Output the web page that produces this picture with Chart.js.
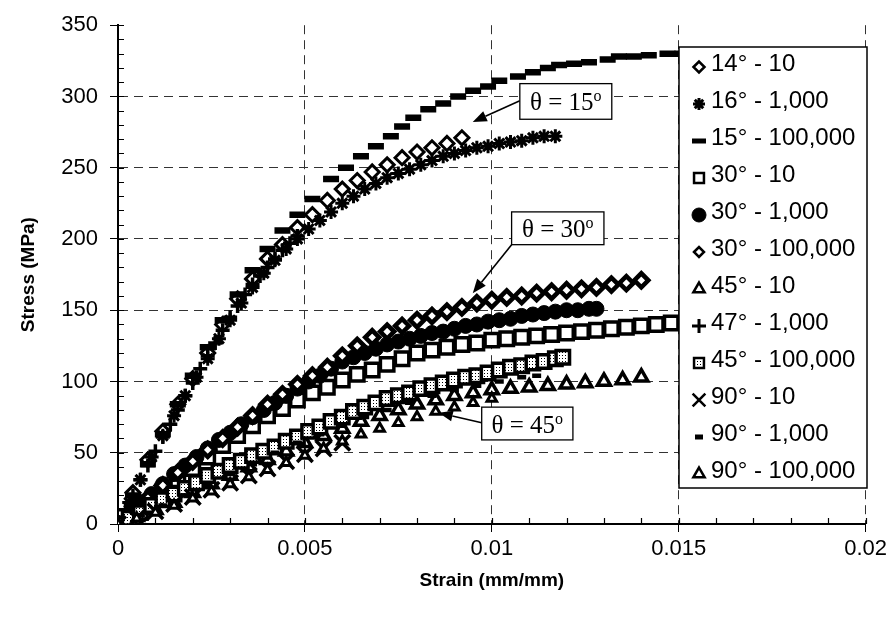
<!DOCTYPE html>
<html>
<head>
<meta charset="utf-8">
<script src="https://cdn.jsdelivr.net/npm/chart.js@4.4.0/dist/chart.umd.min.js"></script>
<style>
  html, body { margin: 0; padding: 0; background: #fff; }
  #chart { display: block; }
</style>
</head>
<body>
<canvas id="chart" width="891" height="619"></canvas>
<script>
// values: strain (mm/mm) vs stress (MPa)
const seriesLabels = ['14° - 10', '16° - 1,000', '15° - 100,000', '30° - 10', '30° - 1,000', '30° - 100,000',
  '45° - 10', '47° - 1,000', '45° - 100,000', '90° - 10', '90° - 1,000', '90° - 100,000'];

const xTickLabels = ['0', '0.005', '0.01', '0.015', '0.02'];
const yTickLabels = ['0', '50', '100', '150', '200', '250', '300', '350'];

const strain14_10 = [0, 0.0004, 0.0008, 0.0012, 0.0016, 0.002, 0.0024, 0.0028, 0.0032, 0.0036, 0.004, 0.0044, 0.0048, 0.0052, 0.0056, 0.006, 0.0064, 0.0068, 0.0072, 0.0076, 0.008, 0.0084, 0.0088, 0.0092];
const stress14_10 = [0, 22, 45, 65, 84, 102, 120, 140, 158, 172, 186, 196, 208, 217, 227, 235, 241, 247, 252, 257, 261, 264, 267, 271];

const strain16_1k = [0, 0.0003, 0.0006, 0.0009, 0.0012, 0.0015, 0.0018, 0.0021, 0.0024, 0.0027, 0.003, 0.0033, 0.0036, 0.0039, 0.0042, 0.0045, 0.0048, 0.0051, 0.0054, 0.0057, 0.006, 0.0063, 0.0066, 0.0069, 0.0072, 0.0075, 0.0078, 0.0081, 0.0084, 0.0087, 0.009, 0.0093, 0.0096, 0.0099, 0.0102, 0.0105, 0.0108, 0.0111, 0.0114, 0.0117];
const stress16_1k = [0, 15, 31, 47, 62, 76, 90, 103, 116, 130, 143, 155, 166, 176, 185, 193, 200, 207, 213, 219, 225, 230, 235, 239, 243, 246, 249, 252, 255, 258, 260, 262, 264, 265, 267, 268, 269, 271, 272, 272];

const strain15_100k = [0, 0.0004, 0.0008, 0.0012, 0.0016, 0.002, 0.0024, 0.0028, 0.0032, 0.0036, 0.004, 0.0044, 0.0048, 0.0052, 0.0057, 0.0061, 0.0065, 0.0069, 0.0073, 0.0076, 0.0079, 0.0083, 0.0087, 0.0091, 0.0095, 0.0099, 0.0102, 0.0107, 0.0111, 0.0115, 0.0118, 0.0122, 0.0126, 0.0131, 0.0134, 0.0138, 0.0142, 0.0147, 0.0151];
const stress15_100k = [0, 20, 42, 63, 84, 104, 124, 143, 161, 178, 193, 206, 217, 228, 242, 250, 258, 265, 272, 279, 285, 291, 295, 300, 304, 307, 311, 314, 317, 320, 322, 323, 324, 326, 328, 328, 329, 330, 330];

const strain30_10 = [0, 0.0004, 0.0008, 0.0012, 0.0016, 0.002, 0.0024, 0.0028, 0.0032, 0.0036, 0.004, 0.0044, 0.0048, 0.0052, 0.0056, 0.006, 0.0064, 0.0068, 0.0072, 0.0076, 0.008, 0.0084, 0.0088, 0.0092, 0.0096, 0.01, 0.0104, 0.0108, 0.0112, 0.0116, 0.012, 0.0124, 0.0128, 0.0132, 0.0136, 0.014, 0.0144, 0.0148];
const stress30_10 = [0, 7, 15, 23, 31, 39, 47, 55, 62, 69, 76, 81, 87, 92, 96, 101, 105, 108, 112, 116, 120, 122, 124, 126, 127, 129, 130, 131, 132, 133, 134, 135, 136, 137, 138, 139, 140, 141];

const strain30_1k = [0, 0.0003, 0.0006, 0.0009, 0.0012, 0.0015, 0.0018, 0.0021, 0.0024, 0.0027, 0.003, 0.0033, 0.0036, 0.0039, 0.0042, 0.0045, 0.0048, 0.0051, 0.0054, 0.0057, 0.006, 0.0063, 0.0066, 0.0069, 0.0072, 0.0075, 0.0078, 0.0081, 0.0084, 0.0087, 0.009, 0.0093, 0.0096, 0.0099, 0.0102, 0.0105, 0.0108, 0.0111, 0.0114, 0.0117, 0.012, 0.0123, 0.0126, 0.0128];
const stress30_1k = [0, 7, 14, 21, 28, 35, 41, 47, 53, 59, 64, 70, 75, 80, 85, 90, 95, 100, 104, 109, 114, 117, 120, 123, 126, 128, 130, 132, 134, 135, 137, 139, 140, 142, 143, 144, 146, 147, 148, 149, 150, 150, 151, 151];

const strain30_100k = [0, 0.0004, 0.0008, 0.0012, 0.0016, 0.002, 0.0024, 0.0028, 0.0032, 0.0036, 0.004, 0.0044, 0.0048, 0.0052, 0.0056, 0.006, 0.0064, 0.0068, 0.0072, 0.0076, 0.008, 0.0084, 0.0088, 0.0092, 0.0096, 0.01, 0.0104, 0.0108, 0.0112, 0.0116, 0.012, 0.0124, 0.0128, 0.0132, 0.0136, 0.014];
const stress30_100k = [0, 9, 18, 27, 36, 44, 52, 60, 68, 76, 84, 91, 98, 104, 110, 118, 125, 131, 135, 139, 143, 146, 149, 152, 155, 157, 159, 160, 162, 163, 164, 165, 166, 168, 169, 171];

const strain45_10 = [0, 0.0005, 0.001, 0.0015, 0.002, 0.0025, 0.003, 0.0035, 0.004, 0.0045, 0.005, 0.0055, 0.006, 0.0065, 0.007, 0.0075, 0.008, 0.0085, 0.009, 0.0095, 0.01, 0.0105, 0.011, 0.0115, 0.012, 0.0125, 0.013, 0.0135, 0.014];
const stress45_10 = [0, 5, 10, 15, 22, 28, 34, 40, 45, 51, 57, 62, 67, 72, 76, 80, 84, 87, 90, 92, 94, 95, 96, 97, 98, 99, 100, 101, 103];

const strain47_1k = [0, 0.0002, 0.0004, 0.0006, 0.0008, 0.001, 0.0012, 0.0014, 0.0016, 0.0018, 0.002, 0.0022, 0.0024, 0.0026, 0.0028, 0.003, 0.0032, 0.0034, 0.0036, 0.0038, 0.004, 0.0042, 0.0044, 0.0046, 0.0048];
const stress47_1k = [0, 10, 20, 31, 41, 51, 61, 70, 80, 90, 99, 109, 118, 127, 136, 145, 153, 161, 168, 174, 180, 186, 192, 197, 202];

const strain45_100k = [0, 0.0003, 0.0006, 0.0009, 0.0012, 0.0015, 0.0018, 0.0021, 0.0024, 0.0027, 0.003, 0.0033, 0.0036, 0.0039, 0.0042, 0.0045, 0.0048, 0.0051, 0.0054, 0.0057, 0.006, 0.0063, 0.0066, 0.0069, 0.0072, 0.0075, 0.0078, 0.0081, 0.0084, 0.0087, 0.009, 0.0093, 0.0096, 0.0099, 0.0102, 0.0105, 0.0108, 0.0111, 0.0114, 0.0117, 0.0119];
const stress45_100k = [0, 4, 8, 13, 17, 21, 25, 29, 34, 37, 41, 44, 48, 51, 54, 58, 61, 65, 68, 72, 75, 79, 82, 85, 88, 90, 92, 95, 97, 99, 101, 103, 104, 106, 108, 110, 111, 113, 114, 116, 117];

const strain90_10 = [0, 0.0005, 0.001, 0.0015, 0.002, 0.0025, 0.003, 0.0035, 0.004, 0.0045, 0.005, 0.0055, 0.006];
const stress90_10 = [0, 4, 9, 14, 19, 24, 29, 34, 39, 44, 49, 53, 57];

const strain90_1k = [0, 0.0006, 0.0012, 0.0018, 0.0024, 0.003, 0.0036, 0.0042, 0.0048, 0.0054, 0.006, 0.0066, 0.0072, 0.0078, 0.0084, 0.009, 0.0096, 0.0102, 0.0108, 0.0112];
const stress90_1k = [0, 6, 13, 20, 27, 35, 42, 50, 57, 63, 69, 75, 80, 85, 90, 94, 97, 100, 103, 104];

const strain90_100k = [0, 0.0005, 0.001, 0.0015, 0.002, 0.0025, 0.003, 0.0035, 0.004, 0.0045, 0.005, 0.0055, 0.006, 0.0065, 0.007, 0.0075, 0.008, 0.0085, 0.009, 0.0095, 0.01];
const stress90_100k = [0, 4, 8, 13, 18, 23, 28, 33, 38, 43, 48, 53, 58, 63, 67, 71, 75, 79, 82, 85, 88];

const strainData = [strain14_10, strain16_1k, strain15_100k, strain30_10, strain30_1k, strain30_100k,
  strain45_10, strain47_1k, strain45_100k, strain90_10, strain90_1k, strain90_100k];
const stressData = [stress14_10, stress16_1k, stress15_100k, stress30_10, stress30_1k, stress30_100k,
  stress45_10, stress47_1k, stress45_100k, stress90_10, stress90_1k, stress90_100k];

// dotted fill like the scanned 45° - 100,000 squares
function dotPattern() {
  const c = document.createElement('canvas');
  c.width = 3; c.height = 3;
  const g = c.getContext('2d');
  g.fillStyle = '#fff';
  g.fillRect(0, 0, 3, 3);
  g.fillStyle = '#000';
  g.fillRect(1, 1, 1, 1);
  return g.createPattern(c, 'repeat');
}
const dots = dotPattern();

// marker look per series (plot size / legend size)
const markers = [
  {style: 'rectRot', r: 7, bw: 3, fill: '#fff', lr: 5.5, lbw: 2.5},
  {style: 'star', r: 7, bw: 3, fill: '#000', lr: 6, lbw: 3},
  {style: 'line', r: 8, bw: 6.5, fill: '#000', lr: 7, lbw: 5},
  {style: 'rect', r: 9.5, bw: 3.5, fill: '#fff', lr: 7, lbw: 2.5},
  {style: 'circle', r: 7.5, bw: 1, fill: '#000', lr: 7, lbw: 1},
  {style: 'rectRot', r: 7, bw: 4.5, fill: '#fff', lr: 5, lbw: 2.5},
  {style: 'triangle', r: 7.5, bw: 3.5, fill: '#fff', lr: 6.5, lbw: 2.5},
  {style: 'cross', r: 7, bw: 3.5, fill: '#000', lr: 7, lbw: 3},
  {style: 'rect', r: 9.5, bw: 3.5, fill: dots, lr: 7, lbw: 2.5},
  {style: 'crossRot', r: 11, bw: 3.5, fill: '#000', lr: 9, lbw: 2.5},
  {style: 'line', r: 4.5, bw: 4.5, fill: '#000', lr: 4, lbw: 5},
  {style: 'triangle', r: 5.5, bw: 3, fill: '#fff', lr: 6.5, lbw: 2.5}
];

const notes = [
  {deg: '15', box: [0.01075, 309, 0.01321, 284], from: [0.01075, 297], to: [0.00949, 282]},
  {deg: '30', box: [0.01053, 219, 0.01300, 196], from: [0.01053, 196], to: [0.00949, 162]},
  {deg: '45', box: [0.00973, 82, 0.01217, 59], from: [0.00973, 71], to: [0.00858, 78]}
];

Chart.defaults.font.family = '"Liberation Sans", Arial, sans-serif';
Chart.defaults.color = '#000';

const datasets = seriesLabels.map((label, i) => {
  const m = markers[i];
  return {
    label: label,
    data: strainData[i].map((x, j) => ({x: x, y: stressData[i][j]})),
    showLine: false,
    pointStyle: m.style,
    pointRadius: m.r,
    pointHoverRadius: m.r,
    pointBorderWidth: m.bw,
    pointBackgroundColor: m.fill,
    pointBorderColor: '#000',
    order: -i
  };
});

const minorTicks = {
  id: 'minorTicks',
  afterDraw(chart) {
    const {ctx, chartArea: a, scales: {x, y}} = chart;
    ctx.save();
    ctx.strokeStyle = '#000';
    ctx.lineWidth = 1.2;
    ctx.beginPath();
    for (let v = 10; v <= 350; v += 10) {
      const py = Math.round(y.getPixelForValue(v)) + 0.5;
      ctx.moveTo(a.left, py);
      ctx.lineTo(a.left + 6, py);
    }
    for (let k = 1; k <= 20; k++) {
      const px = Math.round(x.getPixelForValue(k * 0.001)) + 0.5;
      ctx.moveTo(px, a.bottom);
      ctx.lineTo(px, a.bottom - 6);
    }
    ctx.stroke();
    ctx.restore();
  }
};

const notesPlugin = {
  id: 'notes',
  afterDraw(chart) {
    const {ctx, scales: {x, y}} = chart;
    ctx.save();
    notes.forEach(n => {
      const x0 = x.getPixelForValue(n.box[0]), y0 = y.getPixelForValue(n.box[1]);
      const x1 = x.getPixelForValue(n.box[2]), y1 = y.getPixelForValue(n.box[3]);
      const fx = x.getPixelForValue(n.from[0]), fy = y.getPixelForValue(n.from[1]);
      const tx = x.getPixelForValue(n.to[0]), ty = y.getPixelForValue(n.to[1]);
      // arrow
      ctx.strokeStyle = '#000';
      ctx.fillStyle = '#000';
      ctx.lineWidth = 1.6;
      const ang = Math.atan2(ty - fy, tx - fx);
      const hl = 14, hw = 5.5;
      const bx = tx - hl * Math.cos(ang), by = ty - hl * Math.sin(ang);
      ctx.beginPath();
      ctx.moveTo(fx, fy);
      ctx.lineTo(bx, by);
      ctx.stroke();
      ctx.beginPath();
      ctx.moveTo(tx, ty);
      ctx.lineTo(bx + hw * Math.sin(ang), by - hw * Math.cos(ang));
      ctx.lineTo(bx - hw * Math.sin(ang), by + hw * Math.cos(ang));
      ctx.closePath();
      ctx.fill();
      // box
      ctx.fillStyle = '#fff';
      ctx.fillRect(x0, y0, x1 - x0, y1 - y0);
      ctx.lineWidth = 1.3;
      ctx.strokeRect(x0, y0, x1 - x0, y1 - y0);
      // text
      const main = 'θ = ' + n.deg;
      ctx.fillStyle = '#000';
      ctx.font = '25px "Liberation Serif", "Times New Roman", serif';
      const w1 = ctx.measureText(main).width;
      ctx.font = '16px "Liberation Serif", "Times New Roman", serif';
      const w2 = ctx.measureText('o').width;
      const sx = (x0 + x1) / 2 - (w1 + w2) / 2;
      const base = (y0 + y1) / 2 + 9;
      ctx.textBaseline = 'alphabetic';
      ctx.textAlign = 'left';
      ctx.font = '25px "Liberation Serif", "Times New Roman", serif';
      ctx.fillText(main, sx, base);
      ctx.font = '16px "Liberation Serif", "Times New Roman", serif';
      ctx.fillText('o', sx + w1, base - 9);
    });
    ctx.restore();
  }
};

const legendBox = {
  id: 'legendBox',
  afterDraw(chart) {
    const {ctx} = chart;
    const left = 679, top = 47, right = 867, bottom = 488;
    ctx.save();
    ctx.fillStyle = '#fff';
    ctx.fillRect(left, top, right - left, bottom - top);
    ctx.strokeStyle = '#000';
    ctx.lineWidth = 1.5;
    ctx.strokeRect(left, top, right - left, bottom - top);
    seriesLabels.forEach((label, i) => {
      const m = markers[i];
      const cy = 64 + i * 37;
      ctx.fillStyle = m.fill;
      ctx.strokeStyle = '#000';
      ctx.lineWidth = m.lbw;
      Chart.helpers.drawPoint(ctx, {pointStyle: m.style, radius: m.lr, borderWidth: m.lbw, rotation: 0}, 699, cy + 3);
      ctx.fillStyle = '#000';
      ctx.font = '24px "Liberation Sans", Arial, sans-serif';
      ctx.textBaseline = 'middle';
      ctx.textAlign = 'left';
      ctx.fillText(label, 711, cy);
    });
    ctx.restore();
  }
};

new Chart(document.getElementById('chart'), {
  type: 'scatter',
  data: {datasets: datasets},
  options: {
    responsive: false,
    animation: false,
    devicePixelRatio: 1,
    layout: {padding: {top: 24, right: 25, left: 0, bottom: 0}},
    plugins: {legend: {display: false}, tooltip: {enabled: false}},
    scales: {
      x: {
        type: 'linear',
        min: 0,
        max: 0.02,
        afterFit(scale) { scale.height = 95; },
        afterBuildTicks(scale) { scale.ticks = xTickLabels.map(t => ({value: parseFloat(t)})); },
        ticks: {
          callback: (v, i) => xTickLabels[i],
          font: {size: 22},
          padding: 4,
          maxRotation: 0,
          color: '#000'
        },
        grid: {
          color: ctx => (ctx.tick && ctx.tick.value === 0) ? 'rgba(0,0,0,0)' : '#333',
          lineWidth: 1,
          tickLength: 8,
          tickColor: '#000'
        },
        border: {display: true, color: '#000', width: 2, dash: [9, 6]},
        title: {display: true, text: 'Strain (mm/mm)', font: {size: 19, weight: 'bold'}, padding: {top: 0, bottom: 27}}
      },
      y: {
        type: 'linear',
        min: 0,
        max: 350,
        afterFit(scale) { scale.width = 118; },
        afterBuildTicks(scale) { scale.ticks = yTickLabels.map(t => ({value: parseFloat(t)})); },
        ticks: {
          callback: (v, i) => yTickLabels[i],
          font: {size: 22},
          padding: 12,
          color: '#000'
        },
        grid: {
          color: ctx => (ctx.tick && (ctx.tick.value === 0 || ctx.tick.value === 350)) ? 'rgba(0,0,0,0)' : '#333',
          lineWidth: 1,
          tickLength: 8,
          tickColor: '#000'
        },
        border: {display: true, color: '#000', width: 2, dash: [9, 6]},
        title: {display: true, text: 'Stress (MPa)', font: {size: 19, weight: 'bold'}, padding: {top: 17, bottom: 0}}
      }
    }
  },
  plugins: [minorTicks, notesPlugin, legendBox]
});
</script>
</body>
</html>
